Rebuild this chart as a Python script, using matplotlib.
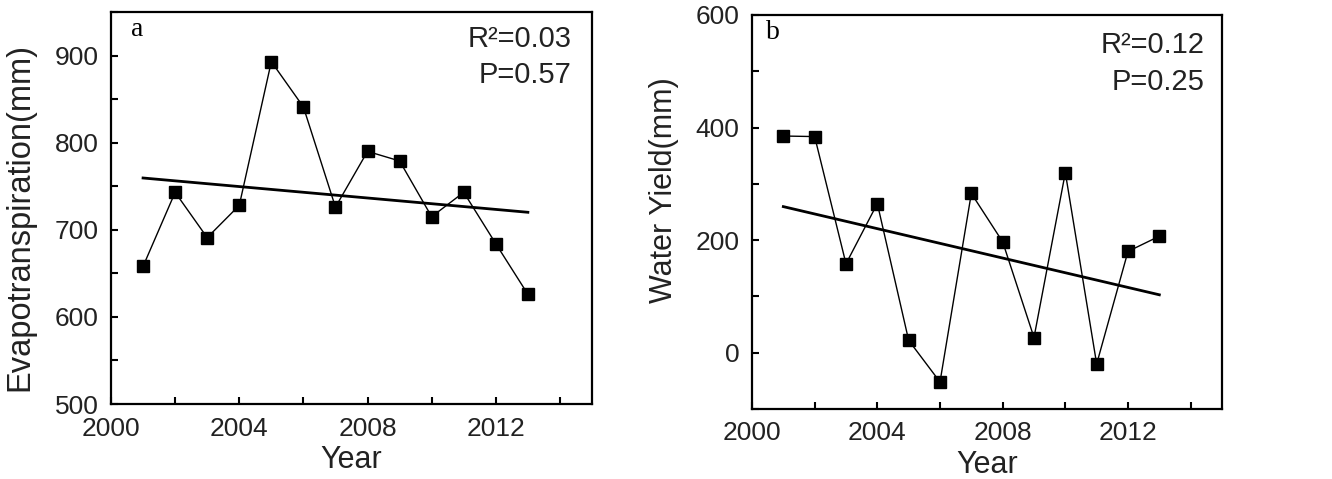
import numpy as np
import matplotlib
matplotlib.use('Agg')
import matplotlib.pyplot as plt
from matplotlib.ticker import MultipleLocator

plt.rcParams['font.family'] = ['Liberation Sans', 'DejaVu Sans']

# Data
years = np.arange(2001, 2014)
et = [658, 743, 691, 728, 893, 841, 726, 790, 779, 715, 743, 684, 626]
wy = [385, 384, 158, 265, 22, -52, 283, 197, 27, 320, -20, 180, 207]
stats_a = ['R\u00b2=0.03', 'P=0.57']
stats_b = ['R\u00b2=0.12', 'P=0.25']

fig = plt.figure(figsize=(13.32, 4.79), dpi=100)
ax1 = fig.add_axes([111/1332, 1-404/479, 481/1332, 392/479])
ax2 = fig.add_axes([752/1332, 1-409/479, 470/1332, 394/479])

def draw(ax, y, ylim, ymaj, ymin, ylabel, ylsize, letter, stats, lx, ylx, yly, sx, sy):
    ax.plot(years, y, 'k-', lw=1.0, marker='s', ms=8.5, mfc='k', mec='k', zorder=3)
    p = np.polyfit(years, y, 1)
    xfit = np.array([years[0], years[-1]])
    ax.plot(xfit, np.polyval(p, xfit), 'k-', lw=2.0, zorder=2)
    ax.set_xlim(2000, 2015)
    ax.set_ylim(*ylim)
    ax.xaxis.set_major_locator(MultipleLocator(4))
    ax.xaxis.set_minor_locator(MultipleLocator(2))
    ax.yaxis.set_major_locator(MultipleLocator(ymaj))
    ax.yaxis.set_minor_locator(MultipleLocator(ymin))
    ax.tick_params(which='both', direction='in', top=False, right=False, width=1.5, length=5, labelsize=19, colors='k', labelcolor='#222222')
    ax.tick_params(axis='x', pad=9)
    ax.tick_params(axis='y', pad=9)
    for s in ax.spines.values():
        s.set_linewidth(1.6)
    ax.set_xlabel('Year', fontsize=22, color='#222222')
    ax.set_ylabel(ylabel, fontsize=ylsize, color='#222222')
    ax.xaxis.set_label_coords(0.5, -0.105)
    ax.yaxis.set_label_coords(ylx, yly)
    ax.text(lx, 0.955, letter, transform=ax.transAxes, family=['Liberation Serif'], fontsize=20, va='center', ha='center')
    ax.text(sx, sy[0], stats[0], transform=ax.transAxes, fontsize=21, ha='right', va='baseline', color='#222222')
    ax.text(sx, sy[1], stats[1], transform=ax.transAxes, fontsize=21, ha='right', va='baseline', color='#222222')

draw(ax1, et, (500, 950), 100, 50, 'Evapotranspiration(mm)', 23.5, 'a', stats_a, 0.055, -0.157, 0.477, 0.958, (0.91, 0.82))
draw(ax2, wy, (-100, 600), 200, 100, 'Water Yield(mm)', 22, 'b', stats_b, 0.045, -0.155, 0.556, 0.962, (0.904, 0.81))

fig.savefig('out.png', dpi=100)
